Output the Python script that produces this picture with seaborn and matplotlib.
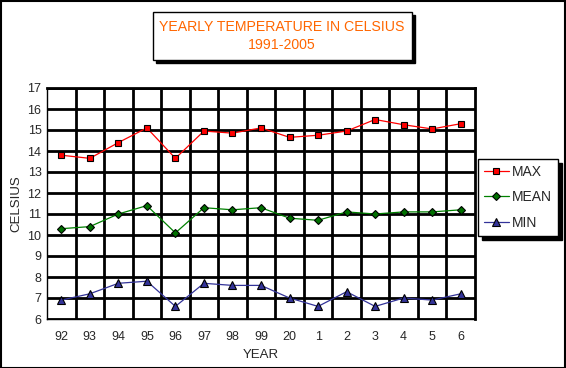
import pandas as pd
import numpy as np
import matplotlib
matplotlib.use("Agg")
import matplotlib.pyplot as plt
from matplotlib.patches import Rectangle
import seaborn as sns

# data
years = ["92", "93", "94", "95", "96", "97", "98", "99", "20", "1", "2", "3", "4", "5", "6"]
max_temp = [13.8, 13.65, 14.4, 15.1, 13.65, 14.95, 14.85, 15.1, 14.65, 14.75, 14.95, 15.5, 15.25, 15.05, 15.3]
mean_temp = [10.3, 10.4, 11.0, 11.4, 10.1, 11.3, 11.2, 11.3, 10.8, 10.7, 11.1, 11.0, 11.1, 11.1, 11.2]
min_temp = [6.9, 7.2, 7.7, 7.8, 6.6, 7.7, 7.6, 7.6, 7.0, 6.6, 7.3, 6.6, 7.0, 6.9, 7.2]

sns.set_style("white")
plt.rcParams['font.family'] = ['Liberation Sans', 'DejaVu Sans']

pos = np.arange(len(years)) + 0.5
df = pd.DataFrame({"pos": pos, "MAX": max_temp, "MEAN": mean_temp, "MIN": min_temp})

fig = plt.figure(figsize=(5.66, 3.68), dpi=100)
ax = fig.add_axes([47/566, 1-319/368, (475-47)/566, (319-88)/368])

styles = {
    "MAX": dict(color="#FF0000", marker="s", markerfacecolor="#FF0000", markersize=5),
    "MEAN": dict(color="#008000", marker="D", markerfacecolor="#007000", markersize=4.5),
    "MIN": dict(color="#333399", marker="^", markerfacecolor="#333399", markersize=5.5),
}
for name, st in styles.items():
    sns.lineplot(data=df, x="pos", y=name, ax=ax, label=name, linewidth=0.9,
                 markeredgecolor="black", markeredgewidth=0.8, **st)

ax.set_xlim(0, len(years))
ax.set_ylim(6, 17)
ax.set_yticks(range(6, 18))
ax.set_xticks(np.arange(1, len(years)))
ax.set_xticks(pos, minor=True)
ax.set_xticklabels([])
ax.set_xticklabels(years, minor=True)
ax.tick_params(axis="x", which="both", length=0, labelsize=9, pad=9)
ax.tick_params(axis="y", length=0, labelsize=9, pad=4)
ax.grid(True, which="major", color="black", linewidth=2)
for s in ax.spines.values():
    s.set_color("black")
    s.set_linewidth(2)
ax.spines["left"].set_linewidth(1)
ax.spines["bottom"].set_linewidth(1)

ax.set_xlabel("YEAR", fontsize=9.5, labelpad=0)
ax.xaxis.set_label_coords(0.5, -0.13)
ax.set_ylabel("CELSIUS", fontsize=9.5, labelpad=4)

leg = ax.legend(loc="upper left", bbox_to_anchor=(478/566, 1-159/368),
                bbox_transform=fig.transFigure, borderaxespad=0, frameon=True,
                fancybox=False, edgecolor="black", fontsize=10, handlelength=1.8,
                labelspacing=0.85, borderpad=0.4, handletextpad=0.25,
                shadow={"color": "black", "alpha": 1, "ox": 3, "oy": -3})
leg.get_frame().set_linewidth(1)

# title box with shadow
fig.patches.append(Rectangle((156/566, 1-63/368), 259/566, 48/368, transform=fig.transFigure,
                             facecolor="black", edgecolor="black", zorder=1))
fig.patches.append(Rectangle((153/566, 1-60/368), 259/566, 48/368, transform=fig.transFigure,
                             facecolor="white", edgecolor="black", linewidth=1, zorder=2))
fig.text(282/566, 1-27/368, "YEARLY TEMPERATURE IN CELSIUS", ha="center", va="center",
         color="#FF6600", fontsize=10.2, zorder=3)
fig.text(282/566, 1-45/368, "1991-2005", ha="center", va="center",
         color="#FF6600", fontsize=10.2, zorder=3)

# outer border
fig.patches.append(Rectangle((0.5/566, 0.5/368), 564.5/566, 366.5/368, transform=fig.transFigure,
                             facecolor="none", edgecolor="black", linewidth=1.5, zorder=5))

fig.savefig("out.png", dpi=100)
